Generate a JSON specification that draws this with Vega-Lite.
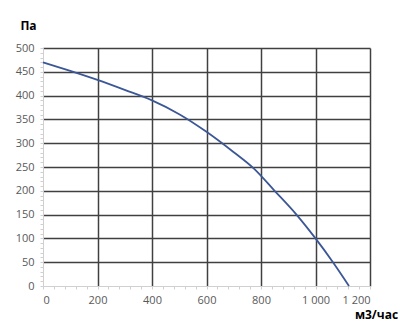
{
  "$schema": "https://vega.github.io/schema/vega-lite/v6.json",
  "autosize": "none",
  "width": 327,
  "height": 238,
  "padding": {"left": 43, "top": 48, "right": 30, "bottom": 46},
  "background": "white",
  "config": {
    "view": {"stroke": null},
    "font": "Open Sans",
    "axis": {
      "labelColor": "#595959",
      "labelFontSize": 11,
      "labelFont": "Open Sans",
      "titleFont": "Open Sans",
      "titleColor": "#000000",
      "titleFontSize": 12,
      "titleFontWeight": "bold",
      "domainColor": "#d0d0d0",
      "tickColor": "#d0d0d0",
      "tickSize": 3,
      "labelOverlap": false,
      "gridWidth": 1.5
    }
  },
  "data": {
    "values": [
      {"q": 0, "p": 470},
      {"q": 100, "p": 452},
      {"q": 200, "p": 433},
      {"q": 300, "p": 412},
      {"q": 400, "p": 390},
      {"q": 500, "p": 361},
      {"q": 600, "p": 324},
      {"q": 700, "p": 281},
      {"q": 775, "p": 246},
      {"q": 850, "p": 200},
      {"q": 930, "p": 150},
      {"q": 1000, "p": 100},
      {"q": 1064, "p": 50},
      {"q": 1123, "p": 0}
    ]
  },
  "mark": {"type": "line", "color": "#3c5797", "strokeWidth": 1.8, "interpolate": "monotone"},
  "encoding": {
    "x": {
      "field": "q",
      "type": "quantitative",
      "scale": {"domain": [0, 1200], "nice": false},
      "axis": {
        "title": "м3/час",
        "titleAngle": 0,
        "titleX": 333,
        "titleY": 28,
        "titleAlign": "center",
        "titleBaseline": "middle",
        "values": [0, 40, 80, 120, 160, 200, 240, 280, 320, 360, 400, 440, 480, 520, 560, 600, 640, 680, 720, 760, 800, 840, 880, 920, 960, 1000, 1040, 1080, 1120, 1160, 1200],
        "labelExpr": "datum.value % 200 === 0 ? replace(format(datum.value, ','), ',', ' ') : ''",
        "labelPadding": 5,
        "grid": true,
        "gridColor": {"condition": {"test": "datum.value % 200 !== 0 || datum.value === 0", "value": "transparent"}, "value": "#404040"}
      }
    },
    "y": {
      "field": "p",
      "type": "quantitative",
      "scale": {"domain": [0, 500], "nice": false},
      "axis": {
        "title": "Па",
        "titleAngle": 0,
        "titleX": -15,
        "titleY": -23,
        "titleAlign": "center",
        "titleBaseline": "middle",
        "values": [0, 10, 20, 30, 40, 50, 60, 70, 80, 90, 100, 110, 120, 130, 140, 150, 160, 170, 180, 190, 200, 210, 220, 230, 240, 250, 260, 270, 280, 290, 300, 310, 320, 330, 340, 350, 360, 370, 380, 390, 400, 410, 420, 430, 440, 450, 460, 470, 480, 490, 500],
        "labelExpr": "datum.value % 50 === 0 ? format(datum.value, 'd') : ''",
        "labelPadding": 6,
        "grid": true,
        "gridColor": {"condition": {"test": "datum.value % 50 !== 0 || datum.value === 0", "value": "transparent"}, "value": "#404040"}
      }
    }
  }
}
